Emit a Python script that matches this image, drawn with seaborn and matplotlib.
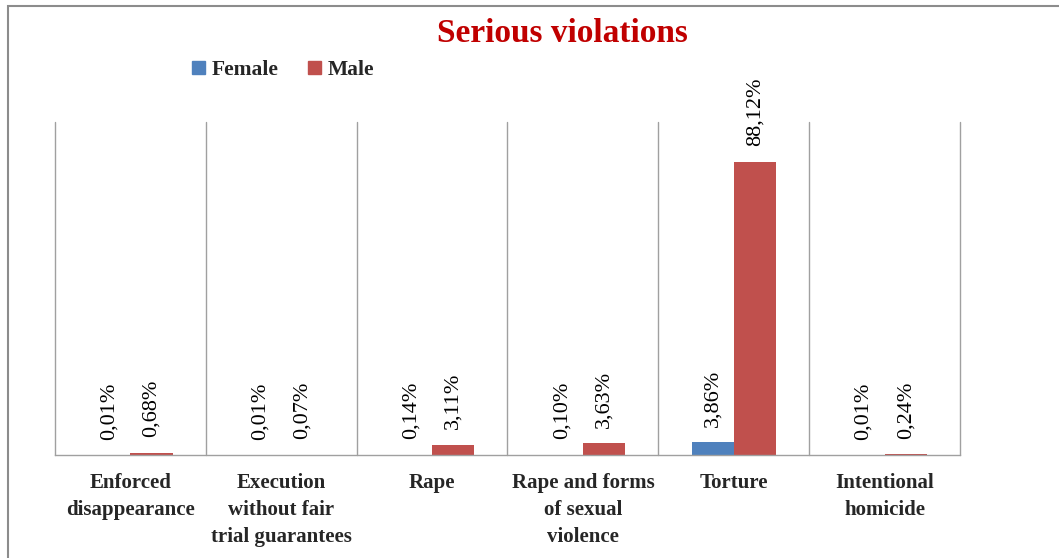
import numpy as np
import pandas as pd
import matplotlib
matplotlib.use('Agg')
import matplotlib.pyplot as plt
from matplotlib.patches import Rectangle
import seaborn as sns

# Data
categories = ['Enforced\ndisappearance', 'Execution\nwithout fair\ntrial guarantees', 'Rape',
              'Rape and forms\nof sexual\nviolence', 'Torture', 'Intentional\nhomicide']
female = [0.01, 0.01, 0.14, 0.10, 3.86, 0.01]
male = [0.68, 0.07, 3.11, 3.63, 88.12, 0.24]
groups = ['Female', 'Male']

df = pd.DataFrame({
    'category': categories * 2,
    'value': female + male,
    'sex': ['Female'] * len(categories) + ['Male'] * len(categories),
})

sns.set_style('white')
plt.rcParams['font.family'] = ['Liberation Serif', 'DejaVu Serif']

fig = plt.figure(figsize=(10.59, 5.58), dpi=100)
ax = fig.add_axes([55 / 1059, 1 - 455 / 558, 905 / 1059, 333 / 558])

palette = {'Female': '#4F81BD', 'Male': '#C0504D'}
sns.barplot(data=df, x='category', y='value', hue='sex', hue_order=groups,
            palette=palette, width=0.56, ax=ax, legend=False, saturation=1,
            edgecolor='none')

# value labels
for cont in ax.containers:
    labels = ['{:.2f}%'.format(b.get_height()).replace('.', ',') for b in cont]
    ax.bar_label(cont, labels=labels, rotation=90, padding=11, fontsize=16, color='black')

ax.set_xlim(-0.5, len(categories) - 0.5)
ax.set_ylim(0, 100)
ax.set_xlabel('')
ax.set_ylabel('')
ax.set_yticks([])

# category separators (drawn unclipped so the end lines are full width)
bounds = np.arange(-0.5, len(categories), 1.0)
for b in bounds:
    ax.axvline(b, color='#a0a0a0', linewidth=1, clip_on=False, zorder=0)
ax.set_xticks(bounds, minor=True)
ax.tick_params(axis='x', which='minor', length=8, width=1, color='#a0a0a0', direction='out')
ax.set_xticks(range(len(categories)))
ax.set_xticklabels(categories, fontsize=15, fontweight='bold', linespacing=1.45,
                   verticalalignment='top')
ax.tick_params(axis='x', which='major', length=0, pad=13)

for s in ['left', 'right', 'top']:
    ax.spines[s].set_visible(False)
ax.spines['bottom'].set_color('#a0a0a0')
ax.spines['bottom'].set_linewidth(1)

# title and legend
fig.text(562 / 1059, 1 - 33 / 558, 'Serious violations', ha='center', va='center',
         fontsize=24, fontweight='bold', color='#C00000')
handles = [Rectangle((0, 0), 1, 1, color=palette[g]) for g in groups]
fig.legend(handles, groups, loc='center', bbox_to_anchor=(283 / 1059, 1 - 70 / 558),
           ncol=2, frameon=False, prop={'size': 15.5, 'weight': 'bold'},
           handlelength=0.6, handleheight=0.6, handletextpad=0.3, columnspacing=1.4)

# outer chart border
fig.add_artist(Rectangle((8 / 1059, -0.1), 1.2, 1.1 - 6 / 558, transform=fig.transFigure,
                         fill=False, edgecolor='#8c8c8c', linewidth=1.5))

fig.savefig('out.png', dpi=100)
